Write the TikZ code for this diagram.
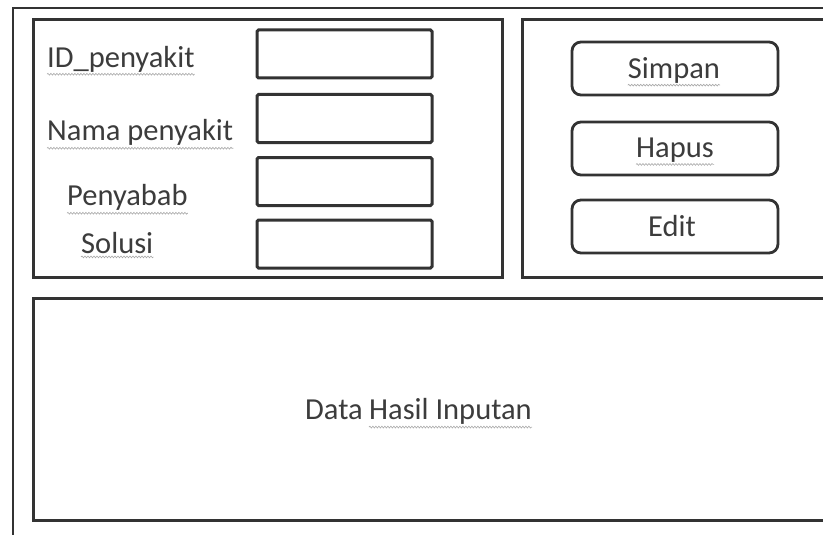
\documentclass[tikz,border=0pt]{standalone}
\usepackage{fontspec}
\setmainfont{Carlito}
\usetikzlibrary{decorations.pathmorphing,calc}
\definecolor{ln}{HTML}{333333}
\definecolor{tx}{HTML}{3C3C3C}
\tikzset{
  frame/.style={draw=ln, line width=2.8pt},
  panel/.style={draw=ln, line width=3pt},
  field/.style={draw=ln, line width=3pt, rounded corners=1.5pt, minimum width=175pt, minimum height=48pt, inner sep=0pt},
  btn/.style={draw=ln, line width=2.8pt, rounded corners=9pt, minimum width=206pt, minimum height=53pt, inner sep=0pt},
  lbl/.style={inner sep=0pt, text=tx, font=\fontsize{30.5}{34}\selectfont},
  squig/.style={draw=gray!70, line width=0.6pt, decorate, decoration={snake, amplitude=0.9pt, segment length=3pt}},
}
\begin{document}
\begin{tikzpicture}[x=1pt,y=-1pt]
\useasboundingbox (0,0) rectangle (823,535);
\clip (0,0) rectangle (823,535);
\fill[white] (0,0) rectangle (823,535);
% outer frame
\draw[frame] (13,560) -- (13,8) -- (860,8);
% panels
\node[panel, minimum width=469pt, minimum height=257pt, inner sep=0pt] (left) at (267.5,148.5) {};
\node[panel, minimum width=330pt, minimum height=257pt, inner sep=0pt] (right) at (687,148.5) {};
\node[panel, minimum width=820pt, minimum height=222pt, inner sep=0pt] (bottom) at (443,409) {};
% fields
\node[field] (f1) at (344.5,54) {};
\node[field] (f2) at (344.5,118.5) {};
\node[field] (f3) at (344.5,181.5) {};
\node[field] (f4) at (344.5,244) {};
% labels
\node[lbl, anchor=west] (l1) at (47,59) {ID\_penyakit};
\node[lbl, anchor=west] (l2) at (47,132) {Nama penyakit};
\node[lbl, anchor=west] (l3) at (67,197) {Penyabab};
\node[lbl, anchor=west] (l4) at (81,243) {Solusi};
% buttons
\node[btn] (b1) at (675,68.5) {};
\node[btn] (b2) at (675,148.5) {};
\node[btn] (b3) at (675,226.5) {};
\node[lbl] (t1) at (674,70) {Simpan};
\node[lbl] (t2) at (675,150) {Hapus};
\node[lbl] (t3) at (672,226) {Edit};
% data text
\node[lbl, anchor=base west] (d1) at (305,419) {Data};
\node[lbl, anchor=base west] (d2) at ($(d1.base east)+(6,0)$) {Hasil Inputan};
% spelling squiggles
\draw[squig] ($(l1.south west)+(0,2)$) -- ($(l1.south east)+(0,2)$);
\draw[squig] ($(l2.south west)+(0,3)$) -- ($(l2.south east)+(0,3)$);
\draw[squig] ($(l3.south west)+(0,3)$) -- ($(l3.south east)+(0,3)$);
\draw[squig] ($(l4.south west)+(0,3)$) -- ($(l4.south east)+(0,3)$);
\draw[squig] ($(t1.south west)+(0,2)$) -- ($(t1.south east)+(0,2)$);
\draw[squig] ($(t2.south west)+(0,2)$) -- ($(t2.south east)+(0,2)$);
\draw[squig] ($(d2.south west)+(0,3)$) -- ($(d2.south east)+(0,3)$);
\end{tikzpicture}
\end{document}
